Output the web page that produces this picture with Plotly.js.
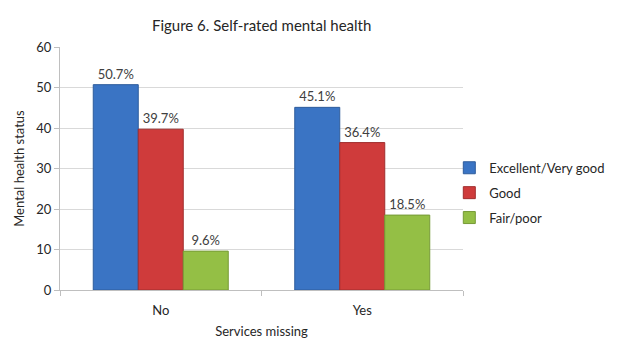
<!DOCTYPE html>
<html>
<head>
<meta charset="utf-8">
<script src="https://cdn.plot.ly/plotly-3.0.1.min.js"></script>
<style>html,body{margin:0;padding:0;background:#fff;}#chart{width:623px;height:339px;}</style>
</head>
<body>
<div id="chart"></div>
<script>
var categories = ["No", "Yes"];
var seriesNames = ["Excellent/Very good", "Good", "Fair/poor"];
var excellentVeryGood = [50.7, 45.1];
var good = [39.7, 36.4];
var fairPoor = [9.6, 18.5];
var fillColors = ["#3A74C4", "#CF3B3B", "#94BF45"];
var lineColors = ["#2E5C9C", "#A02E2E", "#769A36"];
var seriesValues = [excellentVeryGood, good, fairPoor];

var FONT = "Lato, 'Open Sans', sans-serif";
var traces = seriesValues.map(function (vals, i) {
  return {
    type: "bar",
    name: seriesNames[i],
    legendgroup: "g" + i,
    x: categories,
    y: vals,
    text: vals.map(function (v) { return v.toFixed(1) + "%"; }),
    textposition: "outside",
    cliponaxis: false,
    textfont: {family: FONT, size: 13, color: "#404040"},
    marker: {color: fillColors[i], line: {color: lineColors[i], width: 1}},
    hoverinfo: "none"
  };
});

var layout = {
  width: 623, height: 339,
  margin: {l: 60, r: 160, t: 47, b: 49},
  paper_bgcolor: "#fff", plot_bgcolor: "#fff",
  font: {family: FONT, size: 13, color: "#404040"},
  title: {text: "Figure 6. Self-rated mental health", font: {family: FONT, size: 15, color: "#262626"},
          x: 0.42, xanchor: "center", y: 0.925, yanchor: "middle"},
  barmode: "group", bargap: 0.33, bargroupgap: 0,
  showlegend: true,
  legend: {x: 0.966, xanchor: "left", y: 0.40, yanchor: "middle", font: {family: FONT, size: 13, color: "#262626"},
           traceorder: "grouped", tracegroupgap: 5, itemwidth: 30, bgcolor: "rgba(0,0,0,0)"},
  xaxis: {
    title: {text: "Services missing", font: {family: FONT, size: 13, color: "#262626"}, standoff: 10},
    showline: true, linecolor: "#bfbfbf", linewidth: 1,
    ticks: "outside", tickson: "boundaries", ticklen: 5, tickcolor: "#bfbfbf",
    ticklabelstandoff: 8,
    tickfont: {family: FONT, size: 13, color: "#262626"},
    showgrid: false, zeroline: false
  },
  yaxis: {
    title: {text: "Mental health status", font: {family: FONT, size: 13, color: "#262626"}, standoff: 8},
    range: [0, 60], dtick: 10, tick0: 0,
    showline: true, linecolor: "#bfbfbf", linewidth: 1,
    ticks: "outside", ticklen: 5, tickcolor: "#bfbfbf",
    tickfont: {family: FONT, size: 13, color: "#262626"},
    showgrid: true, gridcolor: "#d9d9d9", gridwidth: 1, zeroline: false
  }
};

Plotly.newPlot("chart", traces, layout, {displayModeBar: false, staticPlot: true});
</script>
</body>
</html>
